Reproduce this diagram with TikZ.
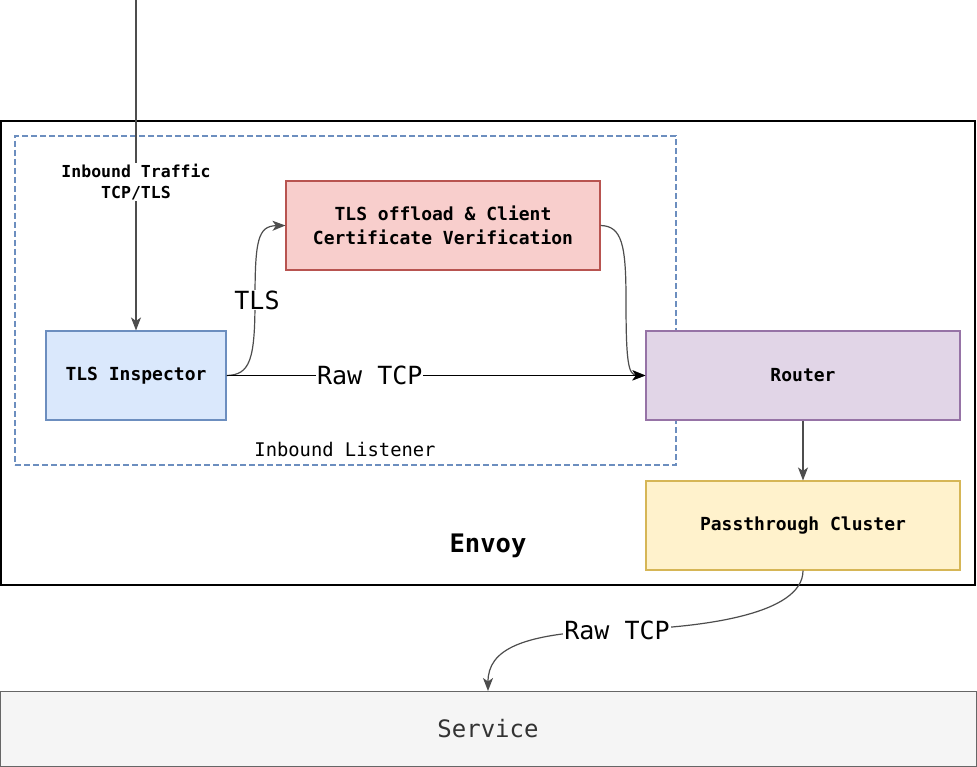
\documentclass[tikz,border=0pt]{standalone}
\usepackage{fontspec}
\setmainfont{DejaVu Sans Mono}
\usetikzlibrary{arrows.meta}
\definecolor{bluefill}{HTML}{DAE8FC}\definecolor{bluedraw}{HTML}{6C8EBF}
\definecolor{redfill}{HTML}{F8CECC}\definecolor{reddraw}{HTML}{B85450}
\definecolor{purpfill}{HTML}{E1D5E7}\definecolor{purpdraw}{HTML}{9673A6}
\definecolor{yelfill}{HTML}{FFF2CC}\definecolor{yeldraw}{HTML}{D6B656}
\definecolor{grayfill}{HTML}{F5F5F5}\definecolor{graydraw}{HTML}{666666}
\definecolor{graytext}{HTML}{333333}\definecolor{edgecol}{HTML}{4D4D4D}
\tikzset{
  box/.style={draw, line width=1.1pt, rectangle, inner sep=0pt, align=center,
    font=\fontsize{18}{22}\selectfont\bfseries},
  conn/.style={draw=edgecol, line width=1.2pt, -{Stealth[length=13pt,width=10pt,inset=3.5pt]}},
  lbl/.style={fill=white, inner sep=1pt, font=\fontsize{25}{28}\selectfont},
}
\begin{document}
\begin{tikzpicture}[x=1pt,y=-1pt]
\useasboundingbox[fill=white] (0,0) rectangle (977,767);
% Envoy container
\node[draw=black, line width=1.3pt, minimum width=974pt, minimum height=464pt, inner sep=0pt] (envoy) at (488,353) {};
\node[font=\fontsize{25.5}{28}\selectfont\bfseries] (envoylbl) at (488,546) {Envoy};
% Inbound listener
\node[draw=bluedraw, line width=1.2pt, dash pattern=on 6pt off 3pt, minimum width=661pt, minimum height=329pt, inner sep=0pt] (listener) at (345.5,300.5) {};
\node[font=\fontsize{18.8}{22}\selectfont] (listenerlbl) at (345,449) {Inbound Listener};
% boxes
\node[box, fill=bluefill, draw=bluedraw, minimum width=180pt, minimum height=89pt] (insp) at (136,375.5) {TLS Inspector};
\node[box, fill=redfill, draw=reddraw, minimum width=314pt, minimum height=89pt, font=\fontsize{18}{23.5}\selectfont\bfseries] (off) at (443,225.5) {TLS offload \& Client\\Certificate Verification};
\node[box, fill=purpfill, draw=purpdraw, minimum width=314pt, minimum height=89pt] (router) at (803,375.5) {Router};
\node[box, fill=yelfill, draw=yeldraw, minimum width=314pt, minimum height=89pt] (pass) at (803,525.5) {Passthrough Cluster};
\node[draw=graydraw, line width=1pt, fill=grayfill, minimum width=976pt, minimum height=75pt, inner sep=0pt, text=graytext, font=\fontsize{24}{28}\selectfont] (service) at (488,728.5) {Service};
% incoming
\coordinate (src) at (136,0);
\draw[conn] (src) -- (insp.north);
\node[fill=white, inner sep=1pt, text=black, align=center, font=\fontsize{16.5}{21}\selectfont\bfseries] (inlbl) at (136,182) {Inbound Traffic\\TCP/TLS};
% TLS curve
\draw[conn] (insp.east) .. controls (250,375) and (255,360) .. (255,300) .. controls (255,240) and (258,226) .. (off.west);
\node[lbl] (tlslbl) at (257,300) {TLS};
% offload to router
\draw[conn] (off.east) .. controls (622,226) and (626,245) .. (626,300) .. controls (626,360) and (628,375) .. (router.west);
% raw tcp straight
\draw[conn, draw=black] (insp.east) -- (router.west) node[pos=0.342, lbl] (rawlbl) {Raw TCP};
% router to pass
\draw[conn] (router.south) -- (pass.north);
% pass to service
\coordinate (mid) at (617,630);
\draw[conn] (pass.south) .. controls (803,615) and (700,628) .. (mid) .. controls (520,633) and (488,650) .. (488,691);
\node[lbl] (raw2lbl) at (617,630) {Raw TCP};
\end{tikzpicture}
\end{document}
